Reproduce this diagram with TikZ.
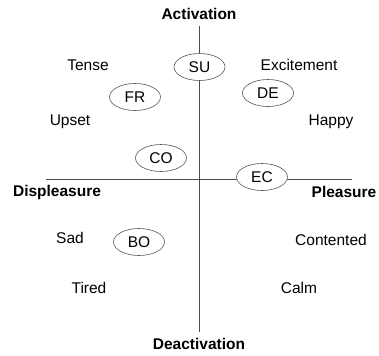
\documentclass[tikz,border=0pt]{standalone}
\usepackage{fontspec}
\setmainfont{Liberation Sans}
\usetikzlibrary{shapes.geometric}
\begin{document}
\begin{tikzpicture}[x=1bp,y=-1bp,
  lbl/.style={font=\fontsize{15.5bp}{18bp}\selectfont, inner sep=0pt},
  axlbl/.style={font=\fontsize{15.5bp}{18bp}\selectfont\bfseries, inner sep=0pt},
  emo/.style={ellipse, draw=black!65, line width=0.6bp, fill=white, minimum width=51bp, minimum height=27bp, inner sep=0pt, font=\fontsize{15.5bp}{18bp}\selectfont},
  axis/.style={draw=black!70, line width=0.7bp}]
\useasboundingbox (0,0) rectangle (379,356);
\coordinate (vt) at (199,26);
\coordinate (vb) at (199,332);
\coordinate (hl) at (46,179);
\coordinate (hr) at (352,179);
\path[axis] (vt) -- (vb);
\path[axis] (hl) -- (hr);
\node[axlbl] (act) at (199,14) {Activation};
\node[axlbl] (deact) at (199,344) {Deactivation};
\node[axlbl] (displ) at (57,192) {Displeasure};
\node[axlbl] (pleas) at (344,192) {Pleasure};
\node[lbl] (tense) at (88,65) {Tense};
\node[lbl] (excit) at (299,65) {Excitement};
\node[lbl] (upset) at (70,122) {Upset};
\node[lbl] (happy) at (331,122) {Happy};
\node[lbl] (sad) at (70,238) {Sad};
\node[lbl] (cont) at (331,240) {Contented};
\node[lbl] (tired) at (89,288) {Tired};
\node[lbl] (calm) at (299,288) {Calm};
\node[emo] (SU) at (199.5,67) {SU};
\node[emo] (FR) at (135,97) {FR};
\node[emo] (DE) at (268,93) {DE};
\node[emo] (CO) at (161,158) {CO};
\node[emo] (EC) at (262,177) {EC};
\node[emo] (BO) at (139,242) {BO};
\end{tikzpicture}
\end{document}
